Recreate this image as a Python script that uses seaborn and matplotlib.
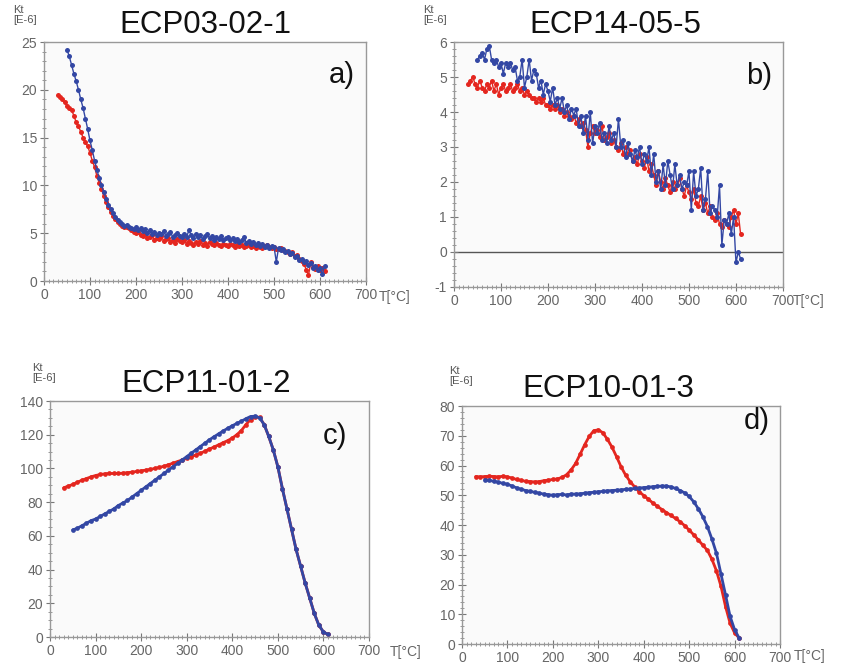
import numpy as np
import pandas as pd
import matplotlib.pyplot as plt
import seaborn as sns
from matplotlib.ticker import MultipleLocator

# Kt [E-6] versus temperature, red = heating, blue = cooling
RED = '#e4261f'
BLUE = '#3347a4'

# ---- a) ECP03-02-1
a_heat_T = list(range(30, 615, 5))
a_heat = [19.5, 19.2, 19.0, 18.7, 18.3, 18.1, 17.9, 17.3, 16.6, 16.2, 15.6, 15.0,
          14.5, 14.1, 13.4, 12.6, 11.9, 11.0, 10.3, 9.6, 8.9, 8.3, 7.7, 7.2,
          6.8, 6.5, 6.2, 6.0, 5.8, 5.7, 5.6, 5.5, 5.3, 5.1, 5.0, 5.1, 4.8, 4.7,
          4.9, 4.5, 4.6, 4.8, 4.3, 4.5, 4.4, 4.7, 4.2, 4.4, 4.5, 4.1, 4.3, 4.0,
          4.4, 4.2, 4.1, 4.3, 3.9, 4.2, 4.0, 3.8, 4.1, 3.9, 4.2, 3.8, 4.0, 3.7,
          4.1, 3.9, 3.8, 4.0, 3.8, 3.7, 3.9, 3.8, 3.7, 3.9, 3.8, 3.6, 3.8, 3.7,
          3.8, 3.6, 3.7, 3.8, 3.6, 3.7, 3.5, 3.7, 3.6, 3.5, 3.7, 3.8, 3.6, 3.5,
          3.6, 3.4, 3.3, 3.5, 3.2, 3.1, 3.0, 2.8, 3.0, 2.6, 2.7, 2.3, 2.1, 1.8,
          1.2, 0.6, 2.0, 1.5, 1.3, 1.6, 1.2, 1.4, 1.0]
a_cool_T = list(range(50, 615, 5))
a_cool = [24.2, 23.5, 22.6, 21.7, 20.9, 20.0, 19.0, 18.1, 17.0, 15.9, 14.7, 13.7,
          12.6, 11.6, 10.8, 10.0, 9.3, 8.6, 8.0, 7.5, 7.1, 6.7, 6.4, 6.2, 6.0,
          5.8, 5.9, 5.6, 5.5, 5.4, 5.6, 5.3, 5.5, 5.2, 5.4, 5.0, 5.3, 4.9, 5.1,
          4.8, 5.0, 4.9, 5.2, 4.7, 4.9, 5.1, 4.6, 4.8, 5.0, 4.7, 4.6, 4.9, 4.6,
          5.3, 4.8, 4.5, 4.9, 4.6, 4.8, 4.4, 4.7, 4.9, 4.5, 4.7, 4.3, 4.6, 4.4,
          4.7, 4.3, 4.5, 4.6, 4.3, 4.5, 4.2, 4.4, 4.1, 4.3, 4.6, 4.0, 4.2, 3.9,
          4.1, 3.8, 4.0, 3.7, 3.9, 3.6, 3.8, 3.5, 3.7, 3.6, 2.0, 3.5, 3.2, 3.4,
          3.0, 3.1, 2.8, 2.9, 2.5, 2.6, 2.2, 2.3, 2.0, 2.1, 1.7, 1.9, 1.4, 1.6,
          1.2, 1.4, 0.7, 1.6]

# ---- b) ECP14-05-5
b_heat_T = list(range(30, 615, 5))
b_heat = [4.8, 4.9, 5.0, 4.8, 4.7, 4.9, 4.7, 4.6, 4.8, 4.7, 4.9, 4.6, 4.8, 4.5,
          4.7, 4.8, 4.6, 4.7, 4.8, 4.6, 4.7, 4.8, 4.6, 4.7, 4.5, 4.6, 4.5, 4.4,
          4.4, 4.3, 4.4, 4.3, 4.4, 4.2, 4.2, 4.1, 4.2, 4.1, 4.2, 4.0, 4.1, 3.9,
          4.0, 3.9, 3.8, 3.9, 3.7, 3.8, 3.6, 3.7, 3.5, 3.0, 3.4, 3.6, 3.4, 3.5,
          3.3, 3.6, 3.2, 3.3, 3.4, 3.1, 3.2, 3.0, 2.9, 3.1, 2.8, 3.0, 2.8, 2.9,
          2.6, 2.7, 2.5, 2.8, 2.6, 2.4, 2.7, 2.3, 2.5, 2.2, 1.9, 2.3, 2.0, 1.8,
          2.1, 1.9, 1.7, 2.0, 1.8, 1.9, 2.1, 1.8, 1.6, 1.9, 1.7, 1.5, 1.8, 1.4,
          1.3, 1.6, 1.2, 1.4, 1.1, 1.3, 1.0, 0.9, 1.1, 0.8, 0.7, 0.9, 0.8, 0.7,
          1.0, 1.2, 0.8, 1.1, 0.5]
b_cool_T = list(range(50, 615, 5))
b_cool = [5.5, 5.6, 5.7, 5.5, 5.8, 5.9, 5.5, 5.4, 5.5, 5.3, 5.4, 5.1, 5.4, 5.3,
          5.4, 5.2, 5.3, 4.9, 5.0, 5.5, 4.7, 5.0, 5.5, 4.9, 5.2, 5.1, 4.7, 4.9,
          4.5, 4.8, 4.6, 4.3, 4.7, 4.2, 4.4, 4.1, 4.4, 4.0, 4.2, 3.8, 4.1, 3.9,
          4.1, 3.6, 3.9, 3.4, 3.9, 3.2, 4.0, 3.1, 3.6, 3.4, 3.7, 3.2, 3.4, 3.1,
          3.6, 3.2, 3.4, 3.0, 3.8, 3.0, 3.2, 2.7, 3.1, 2.8, 2.6, 2.9, 2.7, 3.0,
          2.5, 2.8, 2.6, 3.0, 2.2, 2.8, 2.0, 2.3, 1.8, 2.5, 1.9, 2.6, 2.2, 1.8,
          2.5, 1.9, 2.2, 1.8, 2.0, 1.9, 2.3, 1.2, 2.3, 1.6, 1.8, 2.4, 1.2, 1.5,
          2.3, 1.1, 1.3, 1.2, 1.0, 1.9, 0.2, 0.9, 0.8, 1.1, 0.5, 1.0, -0.3, 0.0,
          -0.2]

# ---- c) ECP11-01-2
c_heat_T = list(range(30, 620, 10))
c_heat = [88.5, 89.5, 90.5, 91.8, 93.0, 94.0, 95.0, 95.8, 96.4, 96.8, 97.0, 97.0,
          97.0, 97.2, 97.5, 97.8, 98.2, 98.6, 99.0, 99.4, 100.0, 100.6, 101.3,
          102.2, 103.1, 104.1, 105.0, 106.0, 107.0, 108.0, 109.0, 110.2, 111.5,
          112.7, 114.0, 115.3, 116.5, 118.0, 120.0, 122.5, 126.0, 129.0, 130.5,
          130.3, 126.0, 119.0, 111.0, 101.0, 88.0, 76.0, 64.0, 52.0, 42.0, 32.0,
          23.0, 14.0, 7.0, 3.0, 1.5]
c_cool_T = list(range(50, 620, 10))
c_cool = [63.5, 64.5, 66.0, 67.5, 69.0, 70.0, 71.5, 73.0, 74.5, 76.0, 78.0, 79.5,
          81.0, 83.0, 85.0, 87.0, 89.0, 91.0, 93.0, 95.0, 97.0, 99.0, 101.0,
          103.0, 105.0, 107.0, 109.0, 111.0, 113.0, 115.0, 117.0, 118.8, 120.5,
          122.2, 123.8, 125.3, 126.7, 128.0, 129.5, 130.8, 131.0, 130.0, 126.0,
          119.0, 111.0, 101.0, 88.0, 76.0, 64.0, 52.0, 42.0, 32.0, 23.0, 14.0,
          7.0, 3.0, 1.5]

# ---- d) ECP10-01-3
d_heat_T = list(range(30, 620, 10))
d_heat = [56.3, 56.2, 56.3, 56.4, 56.3, 56.2, 56.4, 56.2, 55.8, 55.3, 55.0, 54.7,
          54.6, 54.5, 54.6, 54.9, 55.1, 55.3, 55.5, 56.0, 56.9, 58.5, 60.7, 63.8,
          67.0, 69.8, 71.7, 72.0, 71.0, 68.8, 66.2, 63.0, 59.6, 56.8, 54.6, 52.8,
          51.2, 49.9, 48.7, 47.4, 46.3, 45.2, 44.2, 43.2, 42.2, 41.1, 39.8, 38.3,
          36.7, 35.0, 33.2, 31.5, 28.5, 24.6, 19.4, 12.6, 7.0, 3.7, 2.0]
d_cool_T = list(range(50, 620, 10))
d_cool = [55.1, 55.0, 54.7, 54.4, 54.0, 53.7, 53.1, 52.5, 52.0, 51.6, 51.3, 51.0,
          50.7, 50.4, 50.2, 50.0, 50.2, 50.3, 50.1, 50.4, 50.4, 50.5, 50.7, 50.9,
          51.0, 51.2, 51.3, 51.5, 51.6, 51.7, 51.8, 52.0, 52.1, 52.3, 52.4, 52.6,
          52.7, 52.9, 53.0, 53.1, 53.1, 52.8, 52.3, 51.6, 50.8, 49.6, 47.8, 45.5,
          42.8, 39.5, 35.3, 30.5, 23.5, 16.5, 9.3, 4.8, 2.0]

titles = ['ECP03-02-1', 'ECP14-05-5', 'ECP11-01-2', 'ECP10-01-3']
letters = ['a)', 'b)', 'c)', 'd)']
ylims = [(0, 25), (-1, 6), (0, 140), (0, 80)]
ymajor = [5, 1, 20, 10]
yminor = [1, 0.2, 5, 2]

sns.set_theme(style="ticks")
plt.rcParams['font.family'] = ['Liberation Sans', 'DejaVu Sans']
plt.rcParams['axes.unicode_minus'] = False

fig = plt.figure(figsize=(8.49, 6.68), dpi=100)

# axes rectangles (figure fractions)
rects = [[0.0518, 0.5793, 0.3793, 0.3578],
         [0.5347, 0.5704, 0.3875, 0.3667],
         [0.0589, 0.0464, 0.3757, 0.3533],
         [0.5442, 0.0359, 0.3746, 0.3563]]
letter_pos = [(0.966, 0.86), (0.967, 0.86), (0.931, 0.852), (0.969, 0.937)]
kt_pos = [(13, 5), (423, 5), (32, 363), (449, 366)]
t_pos = [(379, 297), (793, 301), (390, 652), (794, 656)]
title_x = [0.5, 0.49, 0.49, 0.46]

panels = [(a_heat_T, a_heat, a_cool_T, a_cool),
          (b_heat_T, b_heat, b_cool_T, b_cool),
          (c_heat_T, c_heat, c_cool_T, c_cool),
          (d_heat_T, d_heat, d_cool_T, d_cool)]

for i, (hT, hK, cT, cK) in enumerate(panels):
    ax = fig.add_axes(rects[i])
    ax.set_facecolor('#fafafa')
    df = pd.concat([pd.DataFrame({'T': hT, 'Kt': hK, 'run': 'heating'}),
                    pd.DataFrame({'T': cT, 'Kt': cK, 'run': 'cooling'})])
    lw = 1.0 if i < 2 else 2.0
    ms = 3.6 if i < 2 else 3.4
    sns.lineplot(data=df, x='T', y='Kt', hue='run', units='run', estimator=None,
                 palette={'heating': RED, 'cooling': BLUE}, marker='o',
                 markersize=ms, markeredgewidth=0, linewidth=lw, legend=False,
                 sort=False, ax=ax)
    if i == 1:
        ax.axhline(0, color='#555555', linewidth=1, zorder=0)
    ax.set_xlim(0, 700)
    ax.set_ylim(*ylims[i])
    ax.xaxis.set_major_locator(MultipleLocator(100))
    ax.xaxis.set_minor_locator(MultipleLocator(10))
    ax.yaxis.set_major_locator(MultipleLocator(ymajor[i]))
    ax.yaxis.set_minor_locator(MultipleLocator(yminor[i]))
    ax.tick_params(which='major', direction='inout', length=6, width=0.8,
                   color='#777777', labelsize=10, labelcolor='#666666', pad=2)
    ax.tick_params(which='minor', direction='inout', length=3, width=0.6,
                   color='#888888')
    for s in ax.spines.values():
        s.set_color('#999999')
        s.set_linewidth(1)
    ax.set_xlabel('')
    ax.set_ylabel('')
    ax.text(title_x[i], 1.008, titles[i], transform=ax.transAxes, ha='center',
            va='bottom', fontsize=22.5, color='#111111')
    ax.text(*letter_pos[i], letters[i], transform=ax.transAxes, ha='right',
            va='center', fontsize=21, color='#111111')
    fig.text(kt_pos[i][0] / 849, 1 - kt_pos[i][1] / 668, 'Kt\n[E-6]',
             ha='left', va='top', fontsize=8, color='#555555', linespacing=1.0)
    fig.text(t_pos[i][0] / 849, 1 - t_pos[i][1] / 668, 'T[°C]',
             ha='left', va='center', fontsize=10, color='#666666')

fig.savefig('out.png', dpi=100)
